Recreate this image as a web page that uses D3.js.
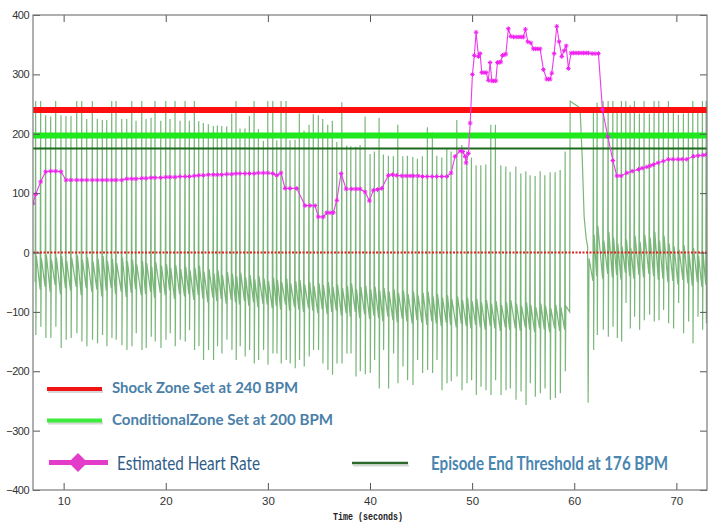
<!DOCTYPE html>
<html>
<head>
<meta charset="utf-8">
<script src="https://cdn.jsdelivr.net/npm/d3@7"></script>
<style>
  body { margin: 0; background: #fff; }
  svg { display: block; }
</style>
</head>
<body>
<svg id="chart"></svg>
<script>
/* axis ranges and tick labels */
const timeRange = [7, 73];
const valueRange = [-400, 400];
const timeTicks = [10, 20, 30, 40, 50, 60, 70];
const valueTicks = [-400, -300, -200, -100, 0, 100, 200, 300, 400];

/* threshold levels, as drawn */
const shockZone = 240;
const conditionalZone = 197;
const episodeEnd = 175;
const zeroLevel = 0;

/* ECG beats: spike time (s), spike top, spike bottom, band level before / after the spike */
const ecgBeatTime = [
  7.26, 7.75, 8.24, 8.73, 9.22, 9.74, 10.23, 10.72, 11.28, 11.77,
  12.26, 12.81, 13.30, 13.79, 14.22, 14.71, 15.13, 15.69, 16.18, 16.67,
  17.09, 17.65, 18.07, 18.56, 18.95, 19.51, 20.00, 20.42, 20.91, 21.40,
  21.89, 22.31, 22.80, 23.23, 23.68, 24.17, 24.66, 25.05, 25.48, 25.97,
  26.46, 26.88, 27.27, 27.76, 28.19, 28.65, 29.07, 29.56, 29.99, 30.48,
  30.87, 31.29, 31.78, 32.17, 32.66, 33.08, 33.54, 34.03, 34.45, 34.94,
  35.37, 35.86, 36.31, 36.75, 37.24, 37.72, 38.12, 38.61, 39.03, 39.52,
  40.01, 40.43, 40.89, 41.31, 41.80, 42.29, 42.72, 43.21, 43.66, 44.19,
  44.64, 45.13, 45.62, 46.11, 46.54, 47.03, 47.52, 47.94, 48.50, 48.99,
  49.48, 49.93, 50.39, 50.85, 51.34, 51.83, 52.28, 52.81, 53.30, 53.72,
  54.28, 54.77, 55.26, 55.68, 56.17, 56.66, 57.12, 57.64, 58.13, 58.62,
  59.11,
  61.88, 62.24, 62.83, 63.32, 63.78, 64.20, 64.62, 65.05, 65.47, 65.89,
  66.38, 66.84, 67.36, 67.82, 68.28, 68.73, 69.22, 69.71, 70.20, 70.69,
  71.18, 71.61, 72.10, 72.55, 72.92
];
const ecgBeatTop = [
  255, 255, 231, 229, 255, 231, 230, 230, 255, 255,
  225, 255, 225, 223, 223, 255, 255, 225, 225, 255,
  222, 255, 225, 227, 255, 222, 255, 225, 255, 222,
  255, 222, 255, 221, 218, 216, 213, 214, 213, 212,
  234, 255, 209, 209, 230, 255, 208, 188, 255, 255,
  189, 255, 255, 189, 190, 234, 205, 215, 233, 231,
  225, 215, 222, 186, 253, 180, 179, 178, 181, 229,
  166, 170, 227, 165, 163, 162, 215, 162, 163, 161,
  158, 162, 211, 202, 163, 160, 175, 170, 223, 181,
  170, 160, 147, 147, 148, 215, 215, 147, 145, 136,
  145, 133, 137, 130, 129, 137, 130, 135, 135, 139,
  170,
  237, 252, 255, 255, 255, 243, 255, 255, 248, 255,
  234, 255, 234, 255, 255, 238, 255, 243, 232, 234,
  243, 255, 243, 255, 255
];
const ecgBeatBottom = [
  -139, -125, -144, -144, -125, -161, -147, -144, -136, -150,
  -158, -147, -153, -139, -158, -144, -147, -156, -164, -158,
  -136, -164, -161, -142, -150, -161, -147, -136, -158, -147,
  -150, -131, -164, -158, -181, -164, -181, -158, -170, -147,
  -164, -181, -158, -175, -164, -187, -181, -164, -189, -170,
  -170, -187, -181, -187, -195, -181, -192, -175, -164, -164,
  -187, -198, -206, -187, -187, -170, -170, -209, -200, -205,
  -203, -181, -229, -164, -229, -170, -220, -192, -215, -223,
  -181, -203, -198, -203, -181, -232, -220, -217, -209, -232,
  -220, -215, -240, -226, -232, -240, -215, -240, -232, -229,
  -248, -234, -257, -220, -243, -237, -229, -248, -245, -237,
  -200,
  -164, -139, -130, -142, -125, -144, -150, -85, -128, -108,
  -130, -114, -105, -116, -114, -97, -119, -128, -85, -136,
  -116, -153, -108, -130, -119
];
const ecgBeatPre = [
  -50, -62, -58, -66, -55, -70, -60, -64, -58, -72,
  -60, -66, -62, -74, -64, -60, -70, -66, -75, -68,
  -62, -72, -70, -66, -76, -68, -72, -64, -78, -70,
  -74, -70, -80, -72, -78, -84, -76, -82, -78, -86,
  -80, -84, -88, -82, -90, -84, -92, -86, -88, -94,
  -90, -96, -88, -98, -92, -96, -100, -94, -98, -102,
  -96, -104, -100, -98, -106, -102, -108, -100, -110, -104,
  -112, -106, -110, -116, -108, -114, -118, -112, -116, -120,
  -114, -118, -122, -116, -120, -124, -118, -122, -126, -120,
  -124, -128, -122, -126, -130, -124, -128, -132, -126, -130,
  -128, -132, -126, -130, -134, -128, -130, -134, -128, -132,
  -130,
  -48, -40, -44, -36, -42, -38, -46, -34, -40, -44,
  -38, -42, -36, -40, -46, -44, -50, -48, -54, -46,
  -52, -56, -50, -58, -54
];
const ecgBeatPost = [
  -5, -10, -4, -12, -8, -6, -14, -9, -5, -12,
  -8, -15, -10, -6, -14, -11, -18, -9, -15, -12,
  -20, -14, -18, -24, -16, -22, -19, -26, -21, -28,
  -24, -30, -26, -22, -32, -28, -35, -30, -38, -33,
  -36, -40, -34, -42, -38, -45, -40, -44, -48, -42,
  -46, -50, -44, -52, -48, -46, -54, -50, -56, -52,
  -55, -50, -58, -54, -60, -56, -52, -62, -58, -56,
  -62, -58, -64, -60, -66, -62, -68, -64, -70, -66,
  -72, -68, -66, -74, -70, -76, -72, -78, -74, -80,
  -76, -82, -78, -84, -80, -86, -82, -88, -84, -80,
  -86, -90, -84, -88, -92, -86, -90, -94, -88, -92,
  -90,
  30, 45, 20, 35, 25, 15, 10, 22, 8, 28,
  18, 30, 25, 35, 20, 28, 15, 10, 5, 12,
  -2, 8, -5, 0, -8
];
/* saturated stretch and reset around t = 60 s */
const ecgTransitionTime = [59.55, 59.60, 59.99, 60.38, 60.58, 60.77, 60.97, 61.16, 61.31, 61.36, 61.45];
const ecgTransitionValue = [-100, 255, 250, 246, 238, 165, 60, 25, 10, -253, -10];

/* estimated heart rate (BPM) */
const hrTime = [
  7.00, 7.26, 7.75, 8.24, 8.73, 9.22, 9.74, 10.23, 10.72, 11.28,
  11.77, 12.26, 12.81, 13.30, 13.79, 14.22, 14.71, 15.13, 15.69, 16.18,
  16.67, 17.09, 17.65, 18.07, 18.56, 18.95, 19.51, 20.00, 20.42, 20.91,
  21.40, 21.89, 22.31, 22.80, 23.23, 23.68, 24.17, 24.66, 25.05, 25.48,
  25.97, 26.46, 26.88, 27.27, 27.76, 28.19, 28.65, 29.07, 29.56, 29.99,
  30.48, 30.87, 31.29, 31.68, 32.17, 32.83, 33.64, 34.13, 34.62, 34.94,
  35.43, 35.77, 36.09, 36.41, 36.75, 37.17, 37.66, 38.21, 38.64, 39.03,
  39.52, 39.94, 40.33, 40.74, 41.15, 41.80, 42.21, 42.62, 43.11, 43.53,
  43.92, 44.25, 44.71, 45.15, 45.59, 46.08, 46.54, 47.03, 47.52, 47.94,
  48.33, 48.82, 49.09, 49.31, 49.41, 49.64, 49.81, 50.03, 50.22, 50.39,
  50.62, 50.78, 50.95, 51.17, 51.37, 51.59, 51.76, 51.93, 52.12, 52.32,
  52.48, 52.64, 52.81, 52.97, 53.13, 53.30, 53.55, 53.79, 54.04, 54.31,
  54.57, 54.80, 55.02, 55.22, 55.45, 55.75, 56.00, 56.22, 56.43, 56.66,
  56.98, 57.31, 57.47, 57.64, 57.80, 58.03, 58.29, 58.52, 58.78, 59.01,
  59.21, 59.43, 59.69, 59.94, 60.18, 60.43, 60.67, 60.92, 61.16, 61.39,
  61.75, 62.04, 62.37, 62.76, 63.29, 63.78, 64.17, 64.59, 65.15, 65.67,
  66.29, 66.65, 67.11, 67.43, 67.75, 68.21, 68.73, 69.22, 69.68, 70.17,
  70.56, 71.02, 71.67, 72.13, 72.62, 72.95
];
const hrValue = [
  83, 98, 119, 136, 137, 137, 136, 122, 122, 122,
  122, 122, 122, 122, 122, 122, 122, 122, 122, 124,
  124, 124, 125, 125, 126, 126, 126, 127, 127, 127,
  128, 128, 128, 129, 130, 130, 131, 131, 131, 131,
  132, 132, 133, 133, 133, 133, 133, 134, 134, 134,
  133, 130, 134, 108, 108, 108, 79, 79, 79, 60,
  60, 67, 67, 67, 88, 133, 107, 107, 107, 107,
  102, 87, 105, 106, 108, 130, 131, 130, 129, 129,
  129, 129, 129, 128, 128, 128, 128, 128, 128, 134,
  162, 171, 170, 162, 151, 167, 218, 300, 332, 371,
  330, 335, 303, 303, 303, 290, 320, 289, 289, 289,
  320, 320, 321, 332, 333, 334, 377, 364, 363, 363,
  363, 363, 363, 376, 355, 353, 343, 343, 343, 343,
  308, 292, 292, 292, 302, 335, 381, 355, 330, 340,
  348, 310, 336, 336, 336, 336, 336, 336, 336, 336,
  335, 335, 335, 241, 195, 155, 129, 129, 134, 137,
  140, 142, 144, 146, 148, 151, 154, 157, 157, 157,
  157, 157, 162, 163, 164, 165
];

/* legend */
const legendLabels = [
  'Shock Zone Set at 240 BPM',
  'ConditionalZone Set at 200 BPM',
  'Estimated Heart Rate',
  'Episode End Threshold at 176 BPM'
];
const xLabel = 'Time (seconds)';

/* 定数群 */
const SVG_WIDTH = 714;
const SVG_HEIGHT = 524;
const PLOT = { left: 33, right: 707, top: 15, bottom: 490 };
const TICK_LEN = 7;

const svg = d3.select('#chart').attr('width', SVG_WIDTH).attr('height', SVG_HEIGHT);

const xScale = d3.scaleLinear().domain(timeRange).range([PLOT.left, PLOT.right]);
const yScale = d3.scaleLinear().domain(valueRange).range([PLOT.bottom, PLOT.top]);

svg.append('defs').append('clipPath').attr('id', 'plot-clip')
  .append('rect')
  .attr('x', PLOT.left).attr('y', PLOT.top)
  .attr('width', PLOT.right - PLOT.left).attr('height', PLOT.bottom - PLOT.top);

const plot = svg.append('g').attr('clip-path', 'url(#plot-clip)');

// ECG trace: each beat is band -> top -> bottom -> band
let ecgPoints = [];
ecgBeatTime.forEach((t, i) => {
  ecgPoints.push([t - 0.05, ecgBeatPre[i]], [t, ecgBeatTop[i]],
                 [t + 0.02, ecgBeatBottom[i]], [t + 0.07, ecgBeatPost[i]]);
});
ecgTransitionTime.forEach((t, i) => ecgPoints.push([t, ecgTransitionValue[i]]));
ecgPoints.sort((a, b) => a[0] - b[0]);

const line = d3.line().x((d) => xScale(d[0])).y((d) => yScale(d[1]));

plot.append('path')
  .datum(ecgPoints)
  .attr('d', line)
  .attr('fill', 'none')
  .attr('stroke', '#2a8a2a')
  .attr('stroke-width', 1.2)
  .attr('stroke-opacity', 0.62)
  .attr('stroke-linejoin', 'miter');

// threshold lines
const hline = (v, color, width, dash) => {
  plot.append('line')
    .attr('x1', xScale(timeRange[0])).attr('x2', xScale(timeRange[1]))
    .attr('y1', yScale(v)).attr('y2', yScale(v))
    .attr('stroke', color).attr('stroke-width', width)
    .attr('stroke-dasharray', dash || null);
};
hline(zeroLevel, '#e0201c', 2, '2 1.5');
hline(shockZone, '#ff1010', 6);
hline(conditionalZone, '#1fe81f', 6);
hline(episodeEnd, '#1d6b1d', 2);

// estimated heart rate
const hrData = hrTime.map((t, i) => [t, hrValue[i]]);
plot.append('path')
  .datum(hrData)
  .attr('d', line)
  .attr('fill', 'none')
  .attr('stroke', '#ea3cea')
  .attr('stroke-width', 1.1);

plot.selectAll('path.hr-mark').data(hrData).enter().append('path')
  .attr('class', 'hr-mark')
  .attr('transform', (d) => `translate(${xScale(d[0])},${yScale(d[1])})`)
  .attr('d', 'M-2.3,0H2.3M0,-2.3V2.3M-1.6,-1.6L1.6,1.6M-1.6,1.6L1.6,-1.6')
  .attr('stroke', '#f020f0')
  .attr('stroke-width', 1);

// axes (ticks pointing inward, MATLAB style)
const tickStyle = (g) => {
  g.select('.domain').remove();
  g.selectAll('.tick line').attr('stroke', '#555');
  g.selectAll('.tick text').attr('fill', '#333')
    .attr('font-family', '"Liberation Sans", Arial, sans-serif');
};

svg.append('g').attr('transform', `translate(0,${PLOT.bottom})`)
  .call(d3.axisBottom(xScale).tickValues(timeTicks).tickSize(-TICK_LEN).tickSizeOuter(0).tickPadding(7))
  .call(tickStyle)
  .selectAll('.tick text').attr('font-size', 11.5);

svg.append('g').attr('transform', `translate(0,${PLOT.top})`)
  .call(d3.axisTop(xScale).tickValues(timeTicks).tickSize(-TICK_LEN).tickSizeOuter(0).tickFormat(''))
  .call(tickStyle);

svg.append('g').attr('transform', `translate(${PLOT.left},0)`)
  .call(d3.axisLeft(yScale).tickValues(valueTicks).tickSize(-TICK_LEN).tickSizeOuter(0).tickPadding(4))
  .call(tickStyle)
  .selectAll('.tick text').attr('font-size', 11).attr('letter-spacing', -0.5);

svg.append('g').attr('transform', `translate(${PLOT.right},0)`)
  .call(d3.axisRight(yScale).tickValues(valueTicks).tickSize(-TICK_LEN).tickSizeOuter(0).tickFormat(''))
  .call(tickStyle);

// frame
svg.append('rect')
  .attr('x', PLOT.left).attr('y', PLOT.top)
  .attr('width', PLOT.right - PLOT.left).attr('height', PLOT.bottom - PLOT.top)
  .attr('fill', 'none').attr('stroke', '#7a7a7a').attr('stroke-width', 1.2);

svg.append('text')
  .attr('x', 368).attr('y', 520)
  .attr('text-anchor', 'middle')
  .attr('font-family', '"Liberation Mono", "DejaVu Sans Mono", monospace')
  .attr('font-size', 10).attr('font-weight', 'bold').attr('fill', '#222')
  .attr('textLength', 70).attr('lengthAdjust', 'spacingAndGlyphs')
  .text(xLabel);

// legend
const legend = svg.append('g');
const legendLine = (x1, x2, y, color, width) => {
  legend.append('line').attr('x1', x1 + 1).attr('x2', x2 + 1).attr('y1', y + 2.5).attr('y2', y + 2.5)
    .attr('stroke', '#c8c8c8').attr('stroke-width', width * 0.7).attr('stroke-opacity', 0.7);
  legend.append('line').attr('x1', x1).attr('x2', x2).attr('y1', y).attr('y2', y)
    .attr('stroke', color).attr('stroke-width', width);
};
const legendText = (x, y, txt, size, weight, color, len) => {
  legend.append('text')
    .attr('x', x).attr('y', y)
    .attr('font-family', 'Lato, "Open Sans", sans-serif')
    .attr('font-size', size).attr('font-weight', weight).attr('fill', color)
    .attr('textLength', len).attr('lengthAdjust', 'spacingAndGlyphs')
    .text(txt);
};

legendLine(47, 102, 389, '#f01414', 4);
legendText(112, 393, legendLabels[0], 16, 700, '#4a80a8', 186);

legendLine(47, 102, 420.5, '#3cec3c', 4);
legendText(112, 425, legendLabels[1], 16, 700, '#4a80a8', 221);

legend.append('line').attr('x1', 49).attr('x2', 108).attr('y1', 462.5).attr('y2', 462.5)
  .attr('stroke', '#e23cc8').attr('stroke-width', 5);
legend.append('path')
  .attr('transform', 'translate(78,462.5)')
  .attr('d', 'M0,-9.5L9.5,0L0,9.5L-9.5,0Z')
  .attr('fill', '#e23cc8');
legendText(117, 469.5, legendLabels[2], 20, 400, '#2e5c88', 143);

legendLine(352, 408, 463, '#2c6a2c', 2.5);
legendText(431, 469.5, legendLabels[3], 18, 700, '#4a86b0', 237);
</script>
</body>
</html>
